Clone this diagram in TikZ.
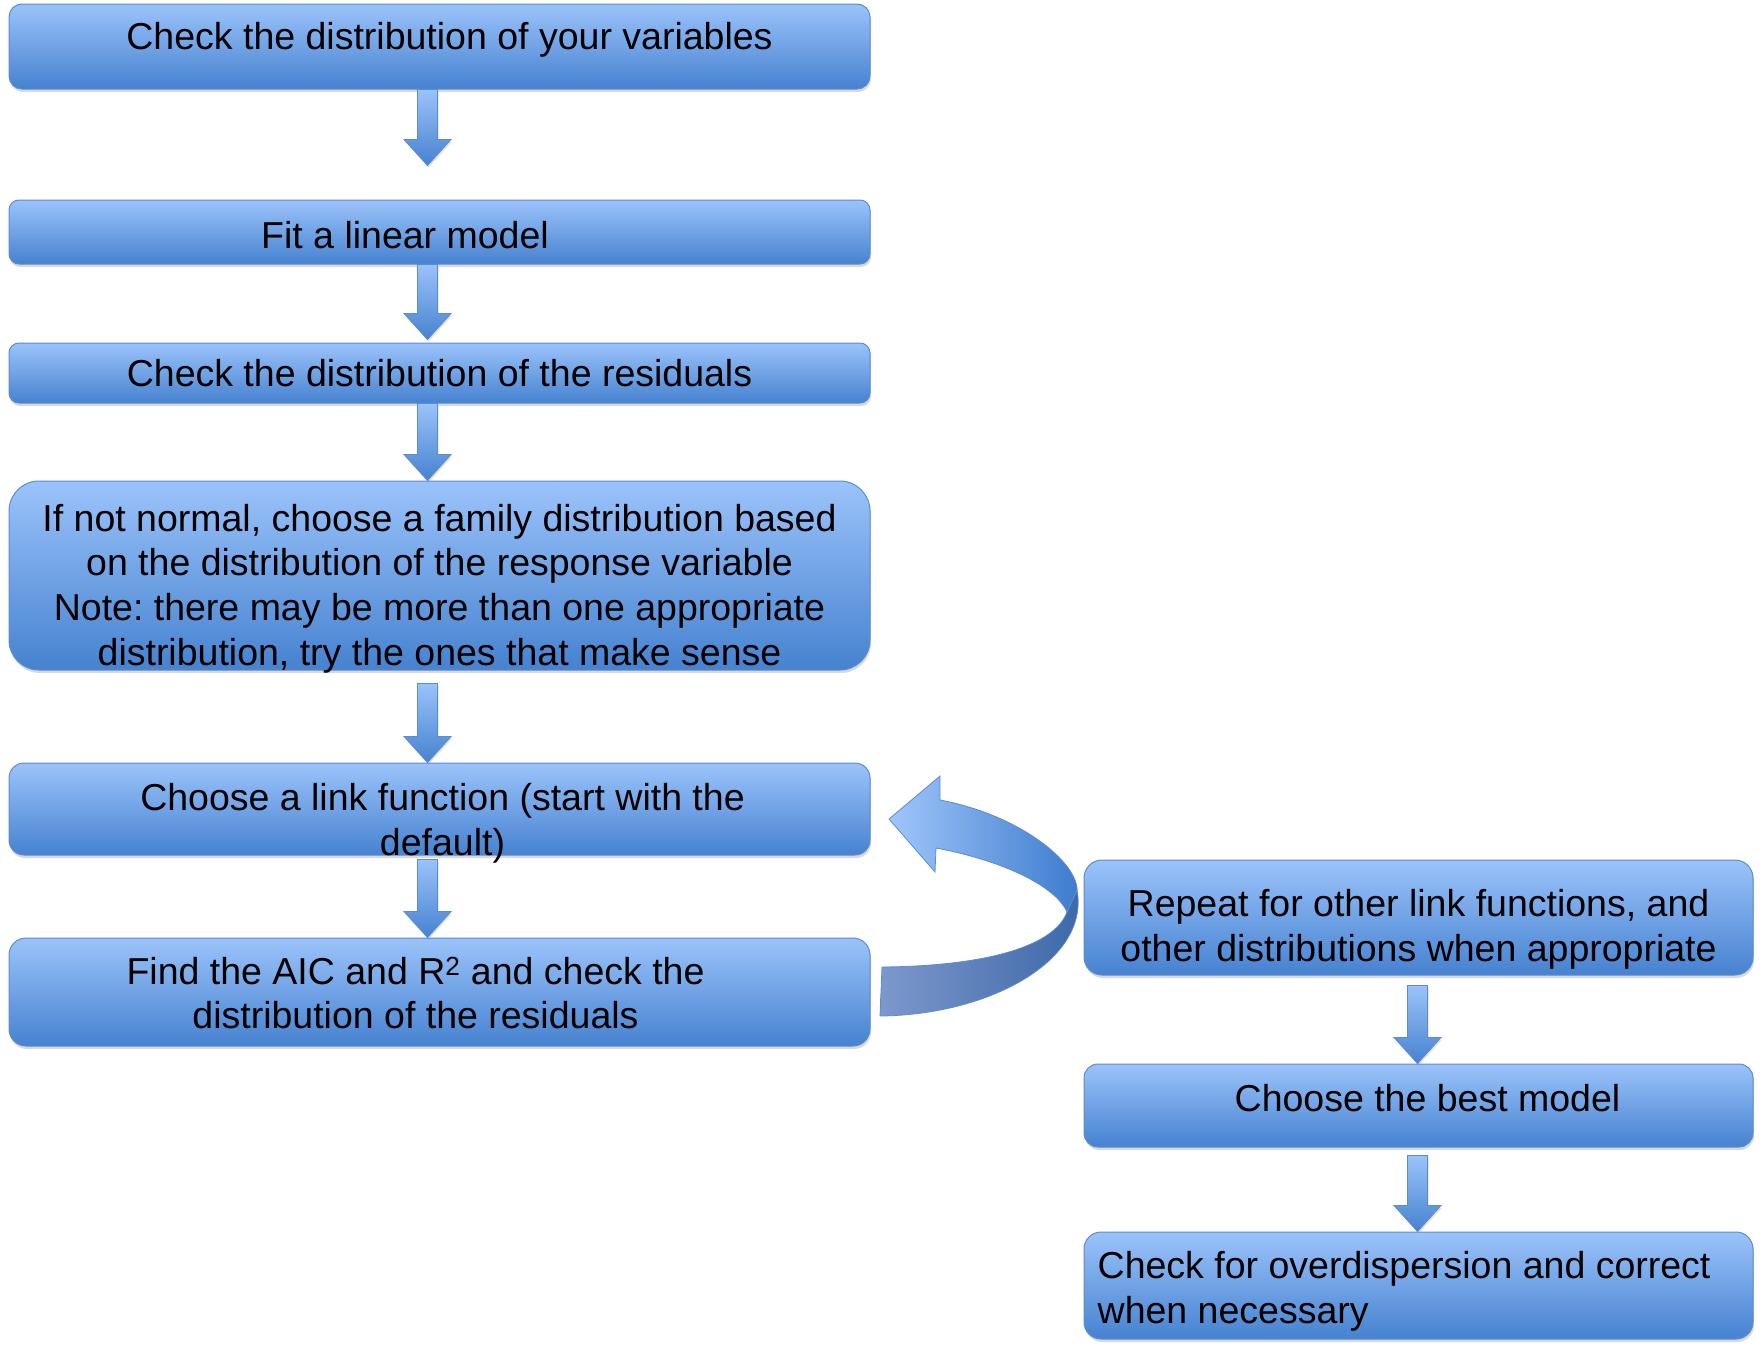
\documentclass[tikz,border=0pt]{standalone}
\usepackage{fontspec}
\setmainfont{Liberation Sans}
\usetikzlibrary{calc,shadows}
\frenchspacing

\definecolor{boxtop}{RGB}{155,195,250}
\definecolor{boxbot}{RGB}{70,130,208}
\definecolor{boxline}{RGB}{92,140,208}
\definecolor{frontleft}{RGB}{160,198,250}
\definecolor{frontright}{RGB}{62,124,206}
\definecolor{backleft}{RGB}{125,152,204}
\definecolor{backright}{RGB}{58,102,166}

% block arrow pointing down, from #1 to #2
\newcommand\blockarrow[2]{%
  \shade[arrowfill] let \p1=(#1), \p2=(#2) in
    (\x1-10pt,\y1) -- (\x1+10pt,\y1) -- (\x1+10pt,\y2+26pt) -- (\x1+23.5pt,\y2+26pt)
    -- (\x1,\y2) -- (\x1-23.5pt,\y2+26pt) -- (\x1-10pt,\y2+26pt) -- cycle;}

\begin{document}
\begin{tikzpicture}[x=1pt, y=-1pt,
    box/.style={draw=boxline, line width=1pt, top color=boxtop, bottom color=boxbot,
      rounded corners=#1, minimum width=861pt, inner sep=0pt,
      drop shadow={shadow xshift=1pt, shadow yshift=-3pt, opacity=.3}},
    box/.default=13pt,
    txt/.style={font=\fontsize{37.5}{44.6}\selectfont, align=center, inner sep=0pt},
    arrowfill/.style={draw=boxline, line width=.8pt, top color=boxtop, bottom color=boxbot,
      drop shadow={shadow xshift=1pt, shadow yshift=-2pt, opacity=.25}}]
    \useasboundingbox (0,0) rectangle (1761,1350);

    % left column
    \node[box, minimum height=85pt] (b1) at (439.5,46.5) {};
    \node[box=10pt, minimum height=64pt] (b2) at (439.5,232) {};
    \node[box=10pt, minimum height=60pt] (b3) at (439.5,373) {};
    \node[box=30pt, minimum height=189pt] (b4) at (439.5,575.5) {};
    \node[box=15pt, minimum height=92pt] (b5) at (439.5,809) {};
    \node[box=17pt, minimum height=108pt] (b6) at (439.5,992) {};

    % right column
    \node[box=18pt, minimum width=669pt, minimum height=115pt] (b7) at (1418.5,917.5) {};
    \node[box=14pt, minimum width=669pt, minimum height=83pt] (b8) at (1418.5,1105.5) {};
    \node[box=17pt, minimum width=669pt, minimum height=107pt] (b9) at (1418.5,1285.5) {};

    \node[txt] (t1) at ([xshift=10pt,yshift=7pt]b1.center) {Check the distribution of your variables};
    \node[txt] (t2) at ([xshift=-34.5pt,yshift=-3pt]b2.center) {Fit a linear model};
    \node[txt] (t3) at (b3.center) {Check the distribution of the residuals};
    \node[txt] (t4) at ([yshift=-13pt]b4.center) {If not normal, choose a family distribution based\\
      on the distribution of the response variable\\
      Note: there may be more than one appropriate\\
      distribution, try the ones that make sense};
    \node[txt] (t5) at ([xshift=3pt,yshift=-14.5pt]b5.center) {Choose a link function (start with the\\default)};
    \node[txt] (t6) at ([xshift=-24pt,yshift=-1pt]b6.center) {Find the AIC and R\textsuperscript{2} and check the\\distribution of the residuals};
    \node[txt] (t7) at ([yshift=-12pt]b7.center) {Repeat for other link functions, and\\other distributions when appropriate};
    \node[txt] (t8) at ([xshift=9pt,yshift=7pt]b8.center) {Choose the best model};
    \node[txt, align=left, anchor=west] (t9) at ([xshift=14pt,yshift=-6pt]b9.west) {Check for overdispersion and correct\\when necessary};

    % block arrows
    \blockarrow{[xshift=-12pt]b1.south}{[xshift=-12pt,yshift=34pt]b2.north}
    \blockarrow{[xshift=-12pt]b2.south}{[xshift=-12pt,yshift=3pt]b3.north}
    \blockarrow{[xshift=-12pt]b3.south}{[xshift=-12pt]b4.north}
    \blockarrow{[xshift=-12pt,yshift=-13pt]b4.south}{[xshift=-12pt]b5.north}
    \blockarrow{[xshift=-12pt,yshift=-4pt]b5.south}{[xshift=-12pt]b6.north}
    \blockarrow{[xshift=-1pt,yshift=-10pt]b7.south}{[xshift=-1pt]b8.north}
    \blockarrow{[xshift=-1pt,yshift=-8pt]b8.south}{[xshift=-1pt]b9.north}

    % curved arrow back to the link function
    \shade[draw=boxline, line width=.8pt, left color=backleft, right color=backright]
      (1077,890) .. controls (1090,960) and (990,1015) .. (880,1016) -- (882,967)
      .. controls (990,966) and (1055,945) .. (1067,912) -- cycle;
    \shade[draw=boxline, line width=.8pt, left color=frontleft, right color=frontright]
      (940,776) -- (889,819) -- (935,872) -- (936,848)
      .. controls (1000,860) and (1055,885) .. (1067,912) -- (1077,890)
      .. controls (1077,862) and (1020,815) .. (940,800) -- cycle;
\end{tikzpicture}
\end{document}
